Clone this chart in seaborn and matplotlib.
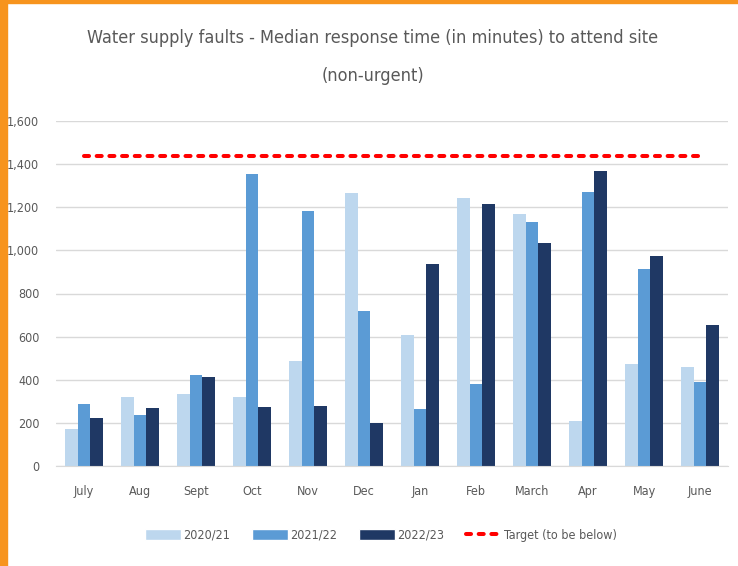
import matplotlib
matplotlib.use("Agg")
import matplotlib.pyplot as plt
import seaborn as sns
import pandas as pd
from matplotlib.patches import Patch, Rectangle
from matplotlib.lines import Line2D

months = ["July", "Aug", "Sept", "Oct", "Nov", "Dec", "Jan", "Feb", "March", "Apr", "May", "June"]
v2020 = [170, 318, 334, 318, 487, 1264, 608, 1243, 1168, 208, 473, 457]
v2021 = [287, 236, 420, 1356, 1183, 720, 264, 379, 1131, 1270, 914, 391]
v2022 = [221, 267, 411, 272, 280, 198, 937, 1213, 1035, 1366, 976, 652]
target = [1440] * 12
series = ["2020/21", "2021/22", "2022/23"]
yticks = [0, 200, 400, 600, 800, 1000, 1200, 1400, 1600]

colors = ["#BDD7EE", "#5B9BD5", "#1F3864"]

df = pd.DataFrame({
    "month": months * 3,
    "value": v2020 + v2021 + v2022,
    "year": [series[0]] * 12 + [series[1]] * 12 + [series[2]] * 12,
})

sns.set_style("white")
plt.rcParams["font.family"] = ["DejaVu Sans"]
plt.rcParams["font.stretch"] = "condensed"
txt = "#595959"

W, H = 738, 566
fig = plt.figure(figsize=(W / 100, H / 100), dpi=100)
ax = fig.add_axes([56 / W, 1 - 466 / H, (728 - 56) / W, (466 - 121) / H])

sns.barplot(data=df, x="month", y="value", hue="year", order=months, hue_order=series,
            palette=colors, width=0.68, dodge=True, gap=0, ax=ax, legend=False,
            saturation=1, edgecolor="none", errorbar=None)

dash = (0, (1.25, 1.9))
ax.plot(range(len(months)), target, color="#FF0000", lw=2.9, ls=dash,
        dash_capstyle="round", zorder=5)

ax.set_xlim(-0.5, 11.5)
ax.set_ylim(0, 1600)
ax.set_yticks(yticks)
ax.set_yticklabels([f"{t:,}" for t in yticks])
ax.set_xlabel("")
ax.set_ylabel("")
ax.yaxis.grid(True, color="#D9D9D9", lw=1)
ax.set_axisbelow(True)
for s in ["top", "right", "left"]:
    ax.spines[s].set_visible(False)
ax.spines["bottom"].set_color("#D9D9D9")
ax.tick_params(axis="both", length=0, labelsize=9, colors=txt)
ax.tick_params(axis="y", pad=12)
ax.tick_params(axis="x", pad=14)

fig.text(0.505, 1 - 38 / H, "Water supply faults - Median response time (in minutes) to attend site",
         ha="center", va="center", fontsize=13, color=txt)
fig.text(0.505, 1 - 76 / H, "(non-urgent)", ha="center", va="center", fontsize=13, color=txt)

handles = [Patch(facecolor=c, label=s) for c, s in zip(colors, series)]
handles.append(Line2D([0], [0], color="#FF0000", lw=2.9, ls=dash,
                      dash_capstyle="round", label="Target (to be below)"))
fig.legend(handles=handles, loc="center", bbox_to_anchor=(381 / W, 1 - 535 / H), ncol=4,
           frameon=False, fontsize=9, labelcolor=txt, handlelength=2.9, handleheight=0.95,
           columnspacing=1.7, handletextpad=0.2)

fig.add_artist(Rectangle((0, 0), 7 / W, 1, transform=fig.transFigure, color="#F7941D", zorder=10))
fig.add_artist(Rectangle((0, 1 - 3 / H), 1, 3 / H, transform=fig.transFigure, color="#F7941D", zorder=10))

fig.savefig("out.png", dpi=100)
